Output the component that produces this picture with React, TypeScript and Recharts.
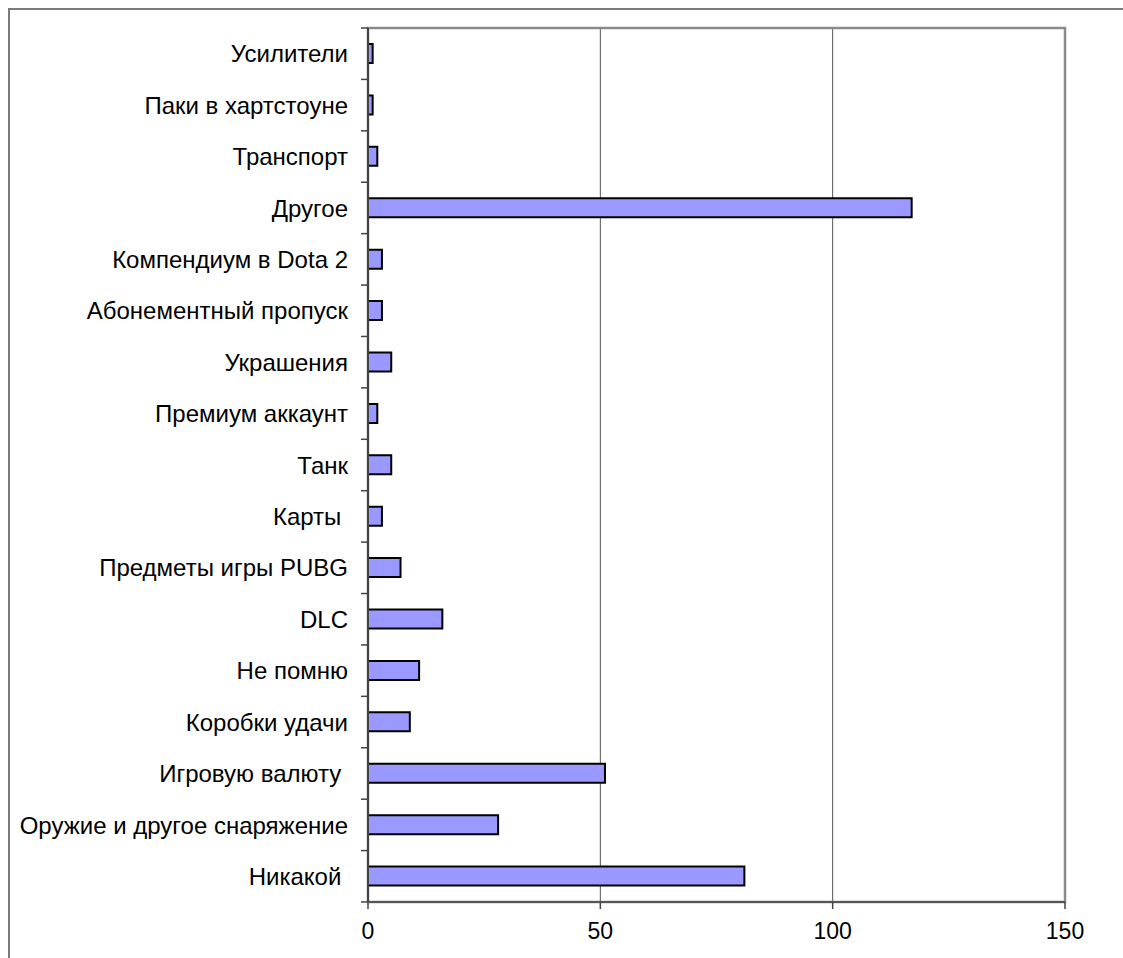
import React from 'react';
import { BarChart, Bar, XAxis, YAxis, CartesianGrid, ReferenceArea } from 'recharts';

const categories = [
  'Усилители',
  'Паки в хартстоуне',
  'Транспорт',
  'Другое',
  'Компендиум в Dota 2',
  'Абонементный пропуск',
  'Украшения',
  'Премиум аккаунт',
  'Танк',
  'Карты ',
  'Предметы игры PUBG',
  'DLC',
  'Не помню',
  'Коробки удачи',
  'Игровую валюту ',
  'Оружие и другое снаряжение',
  'Никакой ',
];
const values = [1, 1, 2, 117, 3, 3, 5, 2, 5, 3, 7, 16, 11, 9, 51, 28, 81];
const xTicks = [0, 50, 100, 150];

const data = categories.map((name, i) => ({ name, value: values[i] }));

const CHART_W = 1100;
const CHART_H = 945;
const MARGIN = { top: 18, right: 45, bottom: 0, left: 0 };
const Y_W = 358;
const X_H = 53;
const FONT = '"Liberation Sans", Arial, sans-serif';
const FS = 24;
const XFS = 23;
const PLOT_H = CHART_H - MARGIN.top - MARGIN.bottom - X_H;
const BAND = PLOT_H / categories.length;
const TICK_MARGIN = 20;
const TICK_LEN = 7;

const YTick = (props: any) => {
  const { x, y, payload, index } = props;
  const half = BAND / 2;
  const ax = x + TICK_MARGIN;
  return (
    <g>
      <text
        x={x}
        y={y}
        dy="0.36em"
        textAnchor="end"
        fontSize={FS}
        fontFamily={FONT}
        fill="#000"
        style={{ whiteSpace: 'pre' }}
      >
        {payload.value}
      </text>
      <line x1={ax - TICK_LEN} x2={ax} y1={y - half} y2={y - half} stroke="#444" strokeWidth={1.5} />
      {index === categories.length - 1 && (
        <line x1={ax - TICK_LEN} x2={ax} y1={y + half} y2={y + half} stroke="#444" strokeWidth={1.5} />
      )}
    </g>
  );
};

export default function App() {
  return (
    <div
      style={{
        position: 'fixed',
        left: 8,
        top: 8,
        right: 0,
        bottom: 0,
        boxSizing: 'border-box',
        borderTop: '2px solid #7a7a7a',
        borderLeft: '2px solid #7a7a7a',
        background: '#fff',
        overflow: 'hidden',
      }}
    >
      <div style={{ position: 'absolute', left: 0, top: 0 }}>
        <BarChart
          width={CHART_W}
          height={CHART_H}
          data={data}
          layout="vertical"
          margin={MARGIN}
          barCategoryGap={0}
        >
          <CartesianGrid horizontal={false} vertical stroke="#555" strokeWidth={1} />
          <ReferenceArea x1={0} x2={150} fill="none" fillOpacity={0} stroke="#8a8a8a" strokeWidth={2.5} />
          <XAxis
            type="number"
            domain={[0, 150]}
            ticks={xTicks}
            interval={0}
            height={X_H}
            tickSize={TICK_LEN}
            tickMargin={14}
            axisLine={{ stroke: '#555', strokeWidth: 2 }}
            tickLine={{ stroke: '#444', strokeWidth: 1.5 }}
            tick={{ fontSize: XFS, fontFamily: FONT, fill: '#000' }}
          />
          <YAxis
            type="category"
            dataKey="name"
            width={Y_W}
            interval={0}
            tickSize={0}
            tickMargin={TICK_MARGIN}
            tickLine={false}
            axisLine={{ stroke: '#444', strokeWidth: 2 }}
            tick={<YTick />}
          />
          <Bar
            dataKey="value"
            barSize={19}
            fill="#9999FF"
            stroke="#000"
            strokeWidth={2}
            isAnimationActive={false}
          />
        </BarChart>
      </div>
    </div>
  );
}
